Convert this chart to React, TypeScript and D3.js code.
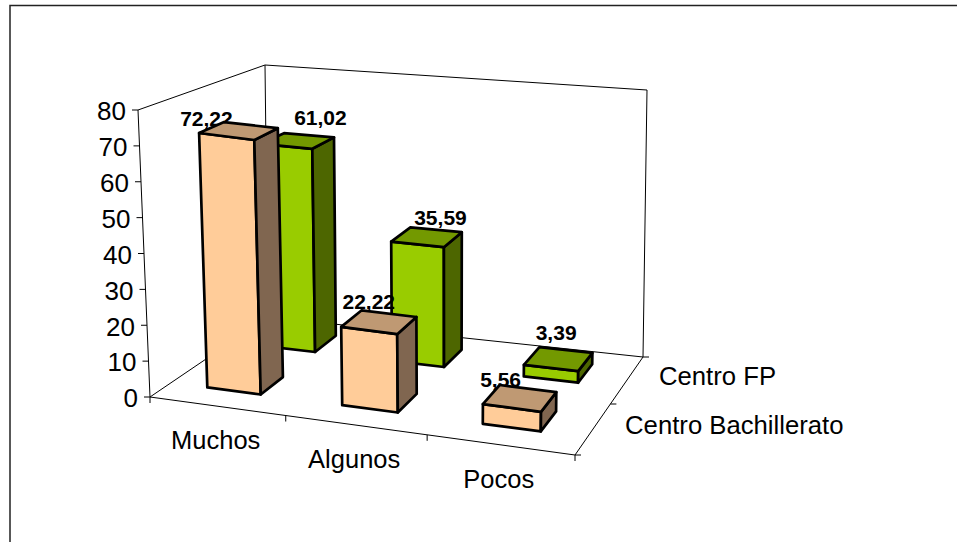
import React from "react";
import * as d3 from "d3";

const categories = ["Muchos", "Algunos", "Pocos"];
const seriesNames = ["Centro Bachillerato", "Centro FP"];
const bachillerato = [72.22, 22.22, 5.56];
const centroFP = [61.02, 35.59, 3.39];
const valueTicks = [0, 10, 20, 30, 40, 50, 60, 70, 80];
const valueLabels = ["72,22", "22,22", "5,56"];
const fpLabels = ["61,02", "35,59", "3,39"];

type Pt = [number, number];
// Plot-box floor corners on screen (front-left, front-right, back-right, back-left)
const floorQuad: Pt[] = [[150, 397], [575, 455], [643, 357], [268, 317]];
// Screen vector of the full 0..80 height at the same four corners
const heightVec: Pt[] = [[-12, -287], [5, -285], [4, -267], [-3, -252]];

function squareToQuad(q: Pt[]) {
  const [[x0, y0], [x1, y1], [x2, y2], [x3, y3]] = q;
  const dx1 = x1 - x2, dx2 = x3 - x2, sx = x0 - x1 + x2 - x3;
  const dy1 = y1 - y2, dy2 = y3 - y2, sy = y0 - y1 + y2 - y3;
  const det = dx1 * dy2 - dx2 * dy1;
  const g = (sx * dy2 - dx2 * sy) / det;
  const h = (dx1 * sy - sx * dy1) / det;
  const a = x1 - x0 + g * x1, b = x3 - x0 + h * x3;
  const d = y1 - y0 + g * y1, e = y3 - y0 + h * y3;
  return (u: number, v: number): Pt => {
    const w = g * u + h * v + 1;
    return [(a * u + b * v + x0) / w, (d * u + e * v + y0) / w];
  };
}
const bilinear = (q: Pt[], u: number, v: number): Pt => {
  const f = (i: number) =>
    (1 - v) * ((1 - u) * q[0][i] + u * q[1][i]) + v * ((1 - u) * q[3][i] + u * q[2][i]);
  return [f(0), f(1)];
};
const floorH = squareToQuad(floorQuad);
const heightScale = d3.scaleLinear().domain([0, 80]).range([0, 1]);
const uScale = d3.scaleBand<string>().domain(categories).range([0, 1]).paddingInner(0.6).paddingOuter(0.3);
const vScale = d3.scaleBand<string>().domain(seriesNames).range([0, 1]).paddingInner(0.6).paddingOuter(0.3);

function project(u: number, v: number, val: number): Pt {
  const t = heightScale(val);
  const a = floorH(u, v), l = bilinear(floorQuad, u, v), hv = bilinear(heightVec, u, v);
  return [(a[0] + l[0]) / 2 + hv[0] * t, (a[1] + l[1]) / 2 + hv[1] * t];
}
const poly = (pts: Pt[]) => "M" + pts.map((p) => `${p[0].toFixed(1)},${p[1].toFixed(1)}`).join("L") + "Z";
const seg = (a: Pt, b: Pt, key: string) => <line key={key} x1={a[0]} y1={a[1]} x2={b[0]} y2={b[1]} stroke="#000" strokeWidth={1} />;

const peach = { front: "#FFCC99", side: "#806650", top: "#BF9973" };
const green = { front: "#99CC00", side: "#4D6600", top: "#739900" };
const FONT = "'Liberation Sans', Arial, sans-serif";
// Hand-placed label shifts relative to each bar's top centre
const peachNudge: Pt[] = [[-33, 2], [-11, -3], [-20, 0]];
const greenNudge: Pt[] = [[22, -10], [13, -4], [-3, -9]];

function Bar({ cat, series, value, label, colors, nudge }: any) {
  const u0 = uScale(cat)!, u1 = u0 + uScale.bandwidth();
  const v0 = vScale(series)!, v1 = v0 + vScale.bandwidth();
  const fbl = project(u0, v0, 0), fbr = project(u1, v0, 0), bbr = project(u1, v1, 0);
  const ftl = project(u0, v0, value), ftr = project(u1, v0, value), btr = project(u1, v1, value), btl = project(u0, v1, value);
  const cx = (ftl[0] + btr[0]) / 2, cy = Math.min(btl[1], btr[1]);
  return (
    <g>
      <text x={cx + nudge[0]} y={cy + nudge[1]} textAnchor="middle" fontFamily={FONT} fontWeight="bold" fontSize={21} fill="#000">{label}</text>
      <g stroke="#000" strokeWidth={2.7} strokeLinejoin="round" transform="translate(-1,-2)">
        <path d={poly([ftl, ftr, fbr, fbl])} fill={colors.front} />
        <path d={poly([ftr, btr, bbr, fbr])} fill={colors.side} />
        <path d={poly([ftl, btl, btr, ftr])} fill={colors.top} />
      </g>
    </g>
  );
}

export default function App() {
  const fl = project(0, 0, 0), fr = project(1, 0, 0), br = project(1, 1, 0), bl = project(0, 1, 0);
  const tfl = project(0, 0, 80), tbl = project(0, 1, 80), tbr = project(1, 1, 80);
  const catEdges = d3.range(0, categories.length + 1).map((i) => i / categories.length);
  const depthEdges = d3.range(0, seriesNames.length + 1).map((i) => i / seriesNames.length);
  return (
    <svg width={957} height={542} style={{ position: "absolute", left: 0, top: 0, background: "#fff" }}>
      <path d="M10,542V5.5H957" fill="none" stroke="#222" strokeWidth={1.5} />
      {seg(tfl, fl, "a1")}
      {seg(tfl, tbl, "a2")}
      {seg(tbl, tbr, "a3")}
      {seg(tbl, bl, "a4")}
      {seg(tbr, br, "a5")}
      {seg(fl, fr, "a6")}
      {seg(fr, br, "a7")}
      {seg(br, bl, "a8")}
      {seg(fl, bl, "a9")}
      {valueTicks.map((t) => {
        const p = project(0, 0, t);
        return (
          <g key={t}>
            <line x1={p[0] - 6} x2={p[0]} y1={p[1]} y2={p[1]} stroke="#000" />
            <text x={p[0] - 12} y={p[1] + 1} dy="0.36em" textAnchor="end" fontFamily={FONT} fontSize={26} fill="#000">{t}</text>
          </g>
        );
      })}
      {catEdges.map((u) => {
        const p = project(u, 0, 0);
        return <line key={u} x1={p[0]} x2={p[0]} y1={p[1]} y2={p[1] + 6} stroke="#000" />;
      })}
      {depthEdges.map((v) => {
        const p = project(1, v, 0);
        return <line key={v} x1={p[0]} x2={p[0] + 6} y1={p[1]} y2={p[1]} stroke="#000" />;
      })}
      {categories.map((c) => {
        const p = project(uScale(c)! + uScale.bandwidth() / 2, 0, 0);
        return <text key={c} x={p[0] - 1.5} y={p[1] + 43} textAnchor="middle" fontFamily={FONT} fontSize={25.5} fill="#000">{c}</text>;
      })}
      {seriesNames.map((s) => {
        const p = project(1, vScale(s)! + vScale.bandwidth() / 2, 0);
        return <text key={s} x={p[0] + 32} y={p[1] - 4} dy="0.36em" fontFamily={FONT} fontSize={25.7} fill="#000">{s}</text>;
      })}
      {categories.map((c, i) => (
        <Bar key={c} cat={c} series={seriesNames[1]} value={centroFP[i]} label={fpLabels[i]} colors={green} nudge={greenNudge[i]} />
      ))}
      {categories.map((c, i) => (
        <Bar key={c} cat={c} series={seriesNames[0]} value={bachillerato[i]} label={valueLabels[i]} colors={peach} nudge={peachNudge[i]} />
      ))}
    </svg>
  );
}
